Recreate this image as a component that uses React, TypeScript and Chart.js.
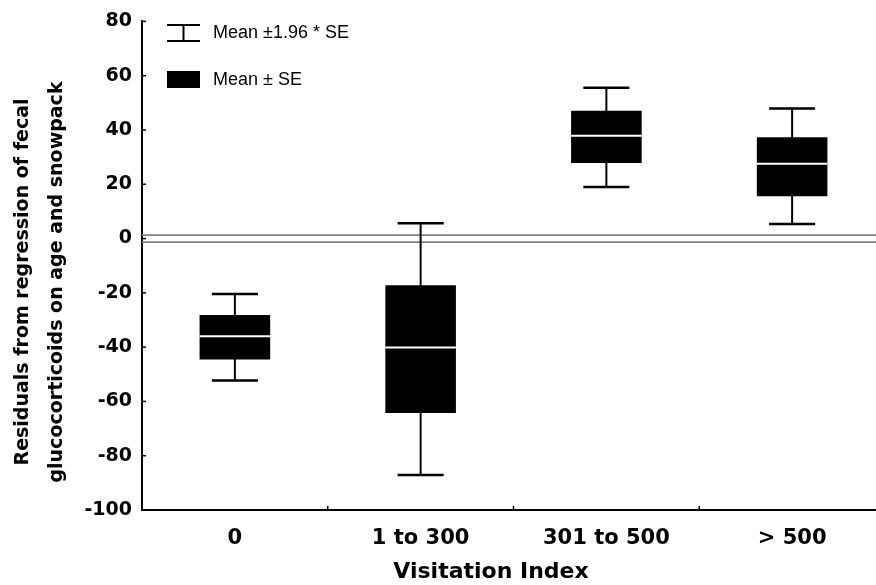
import React, { useEffect, useRef } from "react";
import { Chart, registerables } from "chart.js";

Chart.register(...registerables);

const categories = ["0", "1 to 300", "301 to 500", "> 500"];
const means = [-36.0, -40.1, 37.9, 27.6];
const seLow = [-44.6, -64.3, 27.8, 15.6];
const seHigh = [-28.2, -17.2, 47.1, 37.3];
const ciLow = [-52.3, -87.1, 19.0, 5.4];
const ciHigh = [-20.4, 5.6, 55.6, 47.9];
const zeroBand = [1.3, -1.3];
const yMin = -100;
const yMax = 80;
const yStep = 20;
const yTitleLines = ["Residuals from regression of fecal", "glucocorticoids on age and snowpack"];
const xTitle = "Visitation Index";
const legendLines = ["Mean \u00b11.96 * SE", "Mean \u00b1 SE"];

const boxPlugin = {
  id: "boxExtras",
  beforeDatasetsDraw(chart: any) {
    const { ctx, scales, chartArea } = chart;
    const x = scales.x;
    const y = scales.y;
    ctx.save();
    // zero reference band
    ctx.strokeStyle = "#808080";
    ctx.lineWidth = 1.8;
    zeroBand.forEach((v) => {
      const py = y.getPixelForValue(v);
      ctx.beginPath();
      ctx.moveTo(chartArea.left, py);
      ctx.lineTo(chartArea.right, py);
      ctx.stroke();
    });
    // whiskers
    ctx.strokeStyle = "#000";
    const catW = (chartArea.right - chartArea.left) / categories.length;
    const capHalf = catW * 0.124;
    categories.forEach((_, i) => {
      const px = x.getPixelForValue(i);
      const yt = y.getPixelForValue(ciHigh[i]);
      const yb = y.getPixelForValue(ciLow[i]);
      ctx.lineWidth = 2;
      ctx.beginPath();
      ctx.moveTo(px, yt);
      ctx.lineTo(px, yb);
      ctx.stroke();
      ctx.lineWidth = 2.5;
      ctx.beginPath();
      ctx.moveTo(px - capHalf, yt);
      ctx.lineTo(px + capHalf, yt);
      ctx.moveTo(px - capHalf, yb);
      ctx.lineTo(px + capHalf, yb);
      ctx.stroke();
    });
    ctx.restore();
  },
  afterDatasetsDraw(chart: any) {
    const { ctx, scales, chartArea } = chart;
    const y = scales.y;
    const meta = chart.getDatasetMeta(0);
    ctx.save();
    ctx.strokeStyle = "#fff";
    ctx.lineWidth = 2;
    meta.data.forEach((bar: any, i: number) => {
      const py = y.getPixelForValue(means[i]);
      ctx.beginPath();
      ctx.moveTo(bar.x - bar.width / 2, py);
      ctx.lineTo(bar.x + bar.width / 2, py);
      ctx.stroke();
    });
    // small inner tick marks
    ctx.strokeStyle = "#000";
    ctx.lineWidth = 1.5;
    y.ticks.forEach((t: any) => {
      const py = y.getPixelForValue(t.value);
      ctx.beginPath();
      ctx.moveTo(chartArea.left, py);
      ctx.lineTo(chartArea.left + 4, py);
      ctx.stroke();
    });
    const catW = (chartArea.right - chartArea.left) / categories.length;
    for (let i = 1; i < categories.length; i++) {
      const px = chartArea.left + catW * i;
      ctx.beginPath();
      ctx.moveTo(px, chartArea.bottom);
      ctx.lineTo(px, chartArea.bottom - 4);
      ctx.stroke();
    }
    // titles
    ctx.fillStyle = "#000";
    ctx.font = "bold 19px 'DejaVu Sans'";
    ctx.textAlign = "center";
    ctx.textBaseline = "middle";
    const cy = 282;
    [23, 57].forEach((lx, k) => {
      ctx.save();
      ctx.translate(lx, cy);
      ctx.rotate(-Math.PI / 2);
      ctx.fillText(yTitleLines[k], 0, 0);
      ctx.restore();
    });
    ctx.font = "bold 22px 'DejaVu Sans'";
    ctx.textBaseline = "alphabetic";
    ctx.fillText(xTitle, 491, 578);
    // legend
    ctx.lineWidth = 2;
    ctx.beginPath();
    ctx.moveTo(167, 25);
    ctx.lineTo(200, 25);
    ctx.moveTo(167, 41);
    ctx.lineTo(200, 41);
    ctx.moveTo(183.5, 25);
    ctx.lineTo(183.5, 41);
    ctx.stroke();
    ctx.fillRect(167, 71, 33, 17);
    ctx.font = "18px 'Liberation Sans'";
    ctx.textAlign = "left";
    ctx.textBaseline = "middle";
    ctx.fillText(legendLines[0], 213, 33);
    ctx.fillText(legendLines[1], 213, 80);
    ctx.restore();
  },
};

export default function App() {
  const ref = useRef<HTMLCanvasElement>(null);
  useEffect(() => {
    if (!ref.current) return;
    const chart = new Chart(ref.current, {
      type: "bar",
      data: {
        labels: categories,
        datasets: [
          {
            data: seLow.map((l, i) => [l, seHigh[i]]) as any,
            backgroundColor: "#000",
            borderWidth: 0,
            barPercentage: 0.38,
            categoryPercentage: 1,
          },
        ],
      },
      options: {
        animation: false,
        responsive: false,
        maintainAspectRatio: false,
        layout: { padding: { top: 18, right: 5, left: 0, bottom: 0 } },
        plugins: { legend: { display: false }, tooltip: { enabled: false } },
        scales: {
          x: {
            offset: true,
            grid: { display: false, drawTicks: false },
            border: { display: true, color: "#000", width: 2 },
            ticks: { color: "#000", font: { family: "'DejaVu Sans'", size: 21, weight: "bold" }, padding: 16, maxRotation: 0 },
            afterFit: (s: any) => { s.height = 75; },
          },
          y: {
            min: yMin,
            max: yMax,
            grid: { display: false, drawTicks: false },
            border: { display: true, color: "#000", width: 2 },
            ticks: { stepSize: yStep, color: "#000", font: { family: "'DejaVu Sans'", size: 19, weight: "bold" }, padding: 10 },
            afterFit: (s: any) => { s.width = 142; },
          },
        },
      },
      plugins: [boxPlugin],
    });
    return () => chart.destroy();
  }, []);
  return (
    <div style={{ position: "fixed", left: 0, top: 0, width: 890, height: 585, background: "#fff" }}>
      <canvas ref={ref} width={890} height={585} style={{ width: 890, height: 585, display: "block" }} />
    </div>
  );
}
